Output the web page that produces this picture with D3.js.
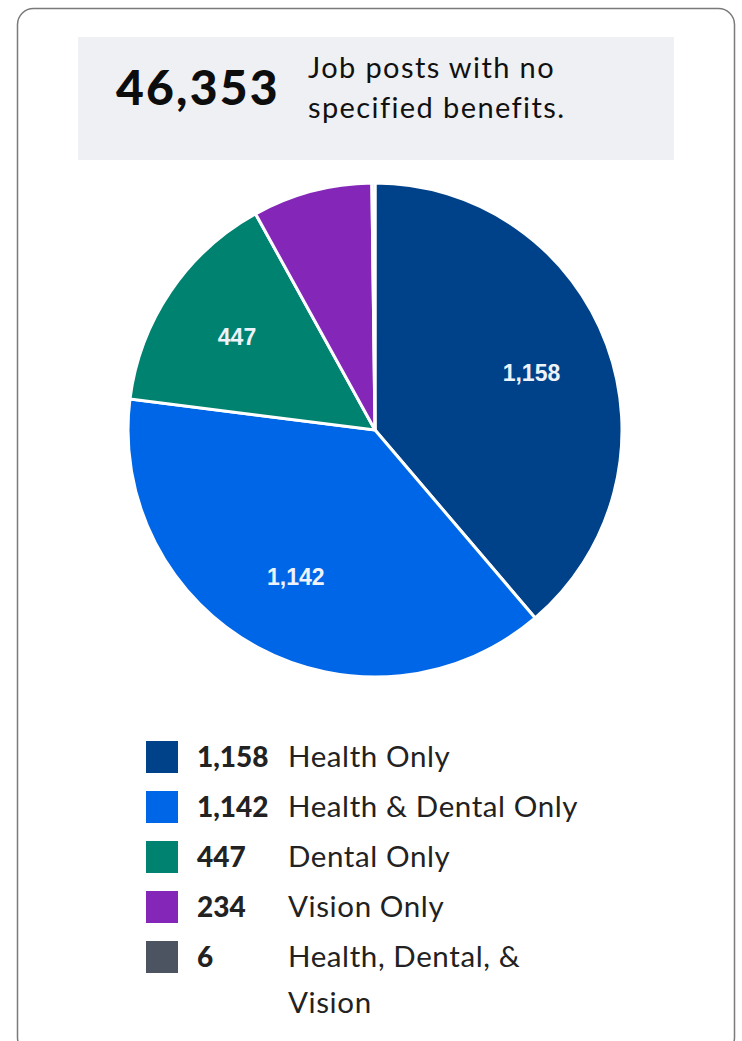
<!DOCTYPE html>
<html><head><meta charset="utf-8">
<script src="https://cdn.jsdelivr.net/npm/d3@7"></script>
<style>body{margin:0;background:#fff}svg{display:block}</style>
</head><body>
<svg id="c" width="742" height="1041"></svg>
<script>
const categories = ["Health Only","Health & Dental Only","Dental Only","Vision Only","Health, Dental, & Vision"];
const values = [1158,1142,447,234,6];
const colors = ["#00428a","#0066e8","#008270","#8427b8","#4d5461"];
const headlineValue = 46353;
const headlineText = ["Job posts with no","specified benefits."];

const svg = d3.select("#c");
const fmt = d3.format(",");
const font = "Lato, 'Open Sans', sans-serif";

svg.append("rect").attr("x",17.5).attr("y",8.5).attr("width",717).attr("height",1045)
  .attr("rx",16).attr("fill","#fff").attr("stroke","#7a7a7a").attr("stroke-width",1.5);

svg.append("rect").attr("x",78).attr("y",37).attr("width",596).attr("height",123).attr("fill","#eff0f3");
svg.append("text").attr("x",116).attr("y",105).attr("font-family",font).attr("font-weight",900)
  .attr("font-size",48).attr("letter-spacing",2.2).attr("fill","#0d0d0d").text(fmt(headlineValue));
svg.append("text").attr("font-family",font).attr("font-weight",400).attr("font-size",29)
  .attr("letter-spacing",1.4).attr("fill","#111")
  .selectAll("tspan").data(headlineText).join("tspan")
  .attr("x",308).attr("y",(d,i)=>78+i*40).text(d=>d);

const cx=375, cy=430, R=247;
const pie = d3.pie().sort(null).value(d=>d.v);
const data = pie(values.map((v,i)=>({v,i})));
const arc = d3.arc().innerRadius(0).outerRadius(R);
const labelArc = d3.arc().innerRadius(R*0.675).outerRadius(R*0.675);
const g = svg.append("g").attr("transform",`translate(${cx},${cy})`);
g.selectAll("path").data(data).join("path").attr("d",arc)
  .attr("fill",d=>colors[d.data.i]).attr("stroke","#fff").attr("stroke-width",3);
g.selectAll("text").data(data.filter(d=>d.data.v>=300)).join("text")
  .attr("transform",d=>`translate(${labelArc.centroid(d)})`)
  .attr("text-anchor","middle").attr("dy","0.36em")
  .attr("font-family","Arial, 'Liberation Sans', sans-serif").attr("font-weight",700).attr("font-size",23)
  .attr("fill","#eef3fa").text(d=>fmt(d.data.v));

const lg = svg.append("g");
const rowY = i=>757+i*50;
categories.forEach((c,i)=>{
  lg.append("rect").attr("x",146).attr("y",rowY(i)-16).attr("width",32).attr("height",32).attr("fill",colors[i]);
  lg.append("text").attr("x",197).attr("y",rowY(i)+10).attr("font-family",font).attr("font-weight",900)
    .attr("font-size",28).attr("fill","#222").text(fmt(values[i]));
  const lines = i===4 ? ["Health, Dental, &","Vision"] : [c];
  lg.append("text").attr("font-family",font).attr("font-size",29.5).attr("letter-spacing",0.6).attr("fill","#222")
    .selectAll("tspan").data(lines).join("tspan").attr("x",288).attr("y",(d,j)=>rowY(i)+10+j*46).text(d=>d);
});
</script>
</body></html>
